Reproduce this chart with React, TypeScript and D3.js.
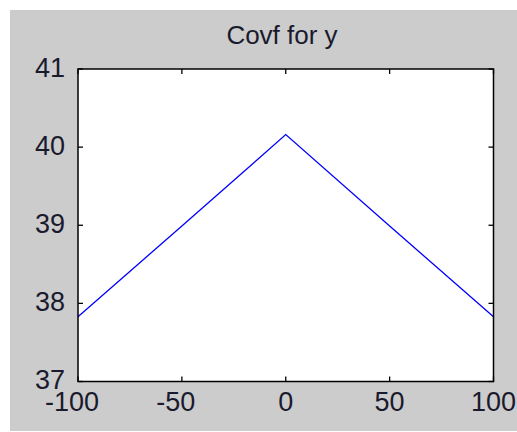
import React, { useEffect, useRef } from 'react'
import * as d3 from 'd3'

const lags = [-100, -50, 0, 50, 100]
const covf = [37.83, 38.99, 40.16, 38.99, 37.83]
const xTicks = [-100, -50, 0, 50, 100]
const yTicks = [37, 38, 39, 40, 41]
const title = 'Covf for y'

export default function App() {
  const ref = useRef<SVGSVGElement>(null)

  useEffect(() => {
    const svg = d3.select(ref.current)
    svg.selectAll('*').remove()

    const width = 517
    const margin = { top: 69, right: 24, bottom: 50, left: 78 }
    const font = 'Liberation Sans, Arial, sans-serif'
    const ink = '#1a1a2e'

    // figure background
    svg.append('rect')
      .attr('x', 10).attr('y', 10)
      .attr('width', width - 10).attr('height', 421)
      .attr('fill', '#cccccc')

    let x = d3.scaleLinear().domain([-100, 100]).range([margin.left, width - margin.right + 0.5])
    let y = d3.scaleLinear().domain([37, 41]).range([381.5, margin.top])

    svg.append('rect')
      .attr('x', x(-100)).attr('y', y(41))
      .attr('width', x(100) - x(-100)).attr('height', y(37) - y(41))
      .attr('fill', 'white')

    let line = d3.line<number>()
      .x((d, i) => x(lags[i]))
      .y(d => y(d))

    svg.append('path')
      .datum(covf)
      .attr('d', line)
      .attr('fill', 'none')
      .attr('stroke', '#0000ff')
      .attr('stroke-width', 1.3)

    let g = svg.append('g')
    const tl = 5

    // ticks inside the box, all four sides
    xTicks.forEach(t => {
      g.append('line').attr('x1', x(t)).attr('x2', x(t)).attr('y1', y(37)).attr('y2', y(37) - tl)
        .attr('stroke', 'black').attr('stroke-width', 1.3)
      g.append('line').attr('x1', x(t)).attr('x2', x(t)).attr('y1', y(41)).attr('y2', y(41) + tl)
        .attr('stroke', 'black').attr('stroke-width', 1.3)
      g.append('text')
        .attr('x', x(t) + (t < 0 ? -6 : 0)).attr('y', 411)
        .attr('text-anchor', 'middle')
        .attr('font-family', font).attr('font-size', 27)
        .attr('fill', ink)
        .text(String(t))
    })

    yTicks.forEach(t => {
      g.append('line').attr('x1', x(-100)).attr('x2', x(-100) + tl).attr('y1', y(t)).attr('y2', y(t))
        .attr('stroke', 'black').attr('stroke-width', 1.3)
      g.append('line').attr('x1', x(100)).attr('x2', x(100) - tl).attr('y1', y(t)).attr('y2', y(t))
        .attr('stroke', 'black').attr('stroke-width', 1.3)
      g.append('text')
        .attr('x', 65).attr('y', y(t) + 7.5)
        .attr('text-anchor', 'end')
        .attr('font-family', font).attr('font-size', 27)
        .attr('fill', ink)
        .text(String(t))
    })

    svg.append('rect')
      .attr('x', x(-100)).attr('y', y(41))
      .attr('width', x(100) - x(-100)).attr('height', y(37) - y(41))
      .attr('fill', 'none')
      .attr('stroke', 'black')
      .attr('stroke-width', 1.5)

    svg.append('text')
      .attr('x', 282).attr('y', 44)
      .attr('text-anchor', 'middle')
      .attr('font-family', font).attr('font-size', 26)
      .attr('fill', ink)
      .text(title)
  }, [])

  return (
    <div style={{ position: 'absolute', left: 0, top: 0 }}>
      <svg ref={ref} width={517} height={432} style={{ display: 'block', background: 'white' }} />
    </div>
  )
}
